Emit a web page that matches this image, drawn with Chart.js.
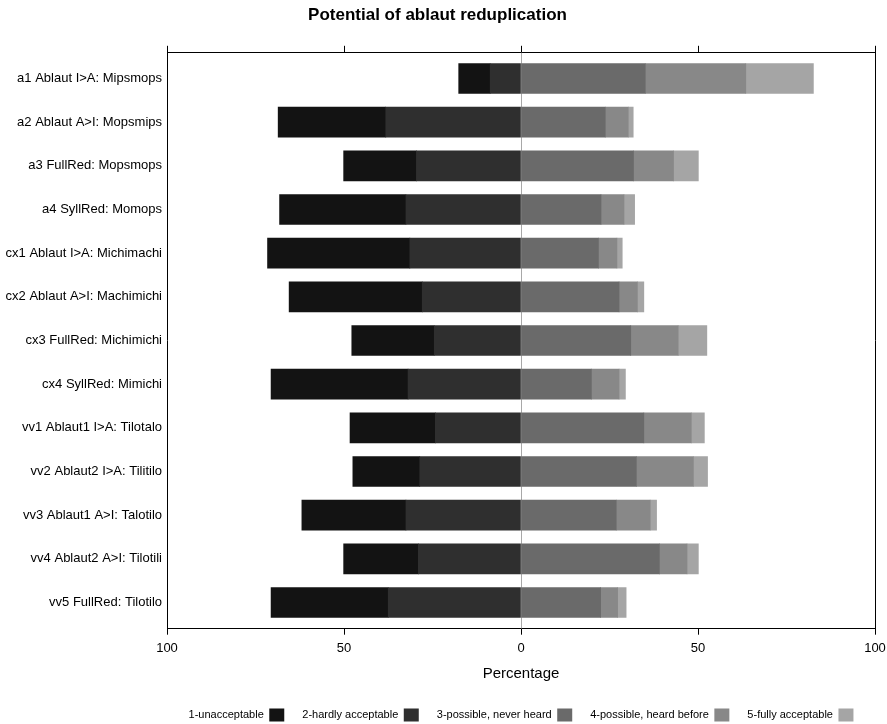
<!DOCTYPE html>
<html>
<head>
<meta charset="utf-8">
<script src="https://cdn.jsdelivr.net/npm/chart.js@4"></script>
<style>
  html, body { margin: 0; padding: 0; background: #fff; }
  #wrap { width: 887px; height: 724px; position: relative; }
</style>
</head>
<body>
<div id="wrap"><canvas id="c" width="887" height="724"></canvas></div>
<script>
const rowLabels = [
  "a1 Ablaut I>A: Mipsmops", "a2 Ablaut A>I: Mopsmips", "a3 FullRed: Mopsmops", "a4 SyllRed: Momops",
  "cx1 Ablaut I>A: Michimachi", "cx2 Ablaut A>I: Machimichi", "cx3 FullRed: Michimichi", "cx4 SyllRed: Mimichi",
  "vv1 Ablaut1 I>A: Tilotalo", "vv2 Ablaut2 I>A: Tilitilo", "vv3 Ablaut1 A>I: Talotilo",
  "vv4 Ablaut2 A>I: Tilotili", "vv5 FullRed: Tilotilo"
];
const seriesNames = ["1-unacceptable", "2-hardly acceptable", "3-possible, never heard", "4-possible, heard before", "5-fully acceptable"];
const unacceptable = [8.9, 30.4, 20.6, 35.7, 40.2, 37.6, 23.3, 38.7, 24.1, 18.9, 29.4, 21.1, 33.1];
const hardlyAcceptable = [8.7, 38.2, 29.5, 32.5, 31.4, 27.9, 24.5, 31.9, 24.2, 28.6, 32.5, 29.0, 37.5];
const possibleNeverHeard = [35.1, 23.8, 31.8, 22.6, 21.9, 27.7, 31.0, 19.9, 34.7, 32.6, 26.9, 39.1, 22.5];
const possibleHeardBefore = [28.4, 6.5, 11.3, 6.5, 5.2, 5.2, 13.4, 7.8, 13.4, 16.1, 9.6, 7.8, 4.8];
const fullyAcceptable = [19.1, 1.4, 7.0, 3.0, 1.5, 1.8, 8.1, 1.8, 3.7, 4.0, 1.8, 3.2, 2.4];
const xTicks = [-100, -50, 0, 50, 100];

const colors = ["#131313", "#2f2f2f", "#6a6a6a", "#888888", "#a5a5a5"];
const FONT = "'Liberation Sans', Arial, Helvetica, sans-serif";

function toPoints(arr, sign) {
  return arr.map((v, i) => ({ x: sign * v, y: i }));
}
const seriesValues = [unacceptable, hardlyAcceptable, possibleNeverHeard, possibleHeardBefore, fullyAcceptable];
const signs = [-1, -1, 1, 1, 1];
const stackOrder = [1, 0, 2, 3, 4];

const datasets = seriesValues.map((vals, k) => ({
  label: seriesNames[k],
  data: toPoints(vals, signs[k]),
  backgroundColor: colors[k],
  borderWidth: 0,
  order: stackOrder[k],
  barThickness: 30,
  xAxisID: 'x',
  yAxisID: 'y'
}));

new Chart(document.getElementById('c'), {
  type: 'bar',
  data: { datasets },
  options: {
    indexAxis: 'y',
    responsive: false,
    animation: false,
    layout: { padding: { left: 0, right: 12, top: 0, bottom: -7.5 } },
    plugins: {
      title: {
        display: true,
        text: 'Potential of ablaut reduplication',
        color: '#000',
        font: { family: FONT, size: 17, weight: 'bold', lineHeight: 1.2 },
        padding: { top: 4.8, bottom: 20.6 }
      },
      legend: {
        position: 'bottom',
        fullSize: false,
        rtl: true,
        textDirection: 'ltr',
        labels: {
          color: '#000',
          font: { family: FONT, size: 11 },
          boxWidth: 15,
          boxHeight: 13,
          padding: 18,
          sort: (a, b) => b.datasetIndex - a.datasetIndex
        }
      },
      tooltip: { enabled: false }
    },
    scales: {
      x: {
        type: 'linear',
        position: 'bottom',
        stacked: true,
        min: -100, max: 100,
        z: 1,
        afterBuildTicks: (s) => { s.ticks = xTicks.map(v => ({ value: v })); },
        afterFit: (s) => { s.paddingLeft = 0; s.paddingRight = 0; },
        ticks: {
          color: '#000',
          font: { family: FONT, size: 13 },
          padding: 5.9,
          maxRotation: 0,
          callback: (v) => String(Math.abs(v))
        },
        grid: {
          drawOnChartArea: true,
          drawTicks: true,
          tickLength: 6,
          tickColor: '#000',
          color: (ctx) => (ctx.tick && ctx.tick.value === 0) ? '#a8a8a8' : 'rgba(0,0,0,0)',
          lineWidth: 1
        },
        border: { display: true, color: '#000', width: 1 },
        title: {
          display: true,
          text: 'Percentage',
          color: '#000',
          font: { family: FONT, size: 15, lineHeight: 1.0 },
          padding: { top: 4.4, bottom: 9 }
        }
      },
      x2: {
        type: 'linear',
        position: 'top',
        min: -100, max: 100,
        afterBuildTicks: (s) => { s.ticks = xTicks.map(v => ({ value: v })); },
        ticks: { display: false },
        grid: { drawOnChartArea: false, drawTicks: true, tickLength: 6.5, tickColor: '#000', color: '#000' },
        border: { display: true, color: '#000', width: 1 }
      },
      y: {
        type: 'linear',
        position: 'left',
        stacked: true,
        reverse: true,
        offset: false,
        min: -0.6, max: 12.6,
        afterBuildTicks: (s) => { s.ticks = rowLabels.map((_, i) => ({ value: i })); },
        afterFit: (s) => { s.width = 167; },
        ticks: {
          color: '#000',
          font: { family: FONT, size: 13 },
          padding: 5,
          autoSkip: false,
          callback: (v) => rowLabels[v] !== undefined ? rowLabels[v] : ''
        },
        grid: { drawOnChartArea: false, drawTicks: false, offset: false },
        border: { display: true, color: '#000', width: 1 }
      },
      y2: {
        type: 'linear',
        position: 'right',
        min: 0, max: 1,
        ticks: { display: false },
        grid: { drawOnChartArea: false, drawTicks: false },
        border: { display: true, color: '#000', width: 1 }
      }
    }
  }
});
</script>
</body>
</html>
